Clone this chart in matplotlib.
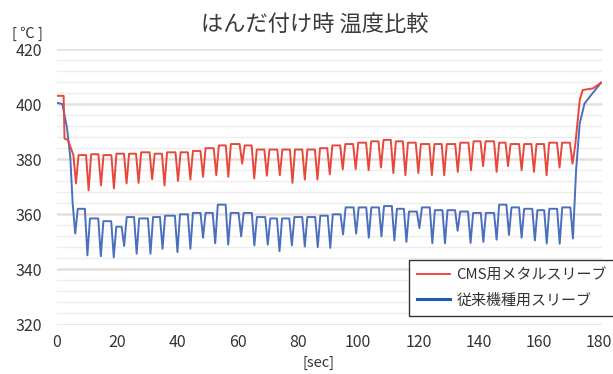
import matplotlib
matplotlib.use("Agg")
import matplotlib.pyplot as plt
from matplotlib.lines import Line2D
from matplotlib.ticker import MultipleLocator

plt.rcParams['font.family'] = ['Noto Sans CJK JP', 'DejaVu Sans']

title = "はんだ付け時 温度比較"
series_names = ["CMS用メタルスリーブ", "従来機種用スリーブ"]
x_ticks = [0, 20, 40, 60, 80, 100, 120, 140, 160, 180]
y_ticks = [320, 340, 360, 380, 400, 420]

# CMS metal sleeve (red): start, per-cycle dips and plateau levels, end
red_start_t = [0, 2.2, 2.5, 3.6]
red_start_v = [403, 403, 387.5, 387]
red_dip_t = [6.3, 10.5, 14.6, 18.9, 23.1, 27.1, 31.6, 35.7, 40.2, 44.3,
             48.5, 52.9, 56.9, 61.5, 65.5, 69.7, 74.0, 78.2, 82.3, 86.5,
             90.6, 94.9, 99.2, 103.5, 107.6, 111.7, 115.7, 120.0, 124.5, 128.6,
             133.1, 137.5, 141.5, 146.0, 149.8, 154.3, 158.4, 162.6, 166.9, 171.2]
red_dip_v = [371.2, 368.7, 370.5, 369.4, 371.2, 371.4, 372.7, 370.5, 372.1, 372.6,
             373.6, 374.2, 373.6, 378.4, 373.0, 374.0, 374.2, 371.4, 372.6, 372.6,
             374.5, 376.3, 376.4, 376.0, 377.0, 375.0, 374.2, 375.0, 374.2, 374.2,
             375.4, 376.0, 377.5, 375.4, 377.5, 376.0, 375.4, 374.2, 377.0, 378.4]
red_top_v = [381.5, 381.5, 381.8, 381.5, 382, 382, 382.5, 382, 382.5, 382.5,
             383, 384, 385, 385.5, 385, 383.5, 383.5, 383.5, 383.5, 383.5,
             384, 385, 385.5, 386, 386.5, 387, 386.5, 386, 385.5, 385.5,
             385.5, 386, 386.5, 386.5, 386, 385.5, 385.5, 385.5, 386, 386]
red_end_t = [172.1, 173.6, 174.6, 178.0, 180.7]
red_end_v = [385, 401.5, 405.1, 405.7, 407.8]

# conventional sleeve (blue)
blue_start_t = [0, 1.8, 3.3, 4.4]
blue_start_v = [400.5, 400, 391.5, 381]
blue_dip_t = [6.05, 10.1, 14.55, 18.85, 22.3, 26.45, 31.05, 35.05, 40.0, 44.3,
              48.5, 52.55, 56.85, 61.15, 65.55, 70.0, 73.9, 78.0, 82.3, 86.6,
              90.75, 95.0, 99.35, 103.55, 107.75, 112.05, 116.05, 120.35, 124.65, 128.85,
              133.05, 137.35, 141.6, 146.0, 150.1, 154.3, 158.7, 162.65, 166.95, 171.35]
blue_dip_v = [353, 345.1, 344.8, 344.4, 348.5, 345.7, 345.7, 347.5, 346.3, 347.5,
              351.5, 349.5, 349.0, 352.0, 348.7, 349.0, 346.6, 348.7, 348.3, 348.1,
              347.8, 352.7, 353.0, 351.5, 352.0, 350.5, 350.0, 355.0, 349.5, 349.5,
              354.0, 349.6, 350.0, 350.8, 352.5, 351.5, 350.5, 349.4, 349.3, 351.2]
blue_top_v = [364, 362, 358.5, 357.5, 355.5, 359, 358.5, 359, 359.5, 360,
              360.5, 360.5, 363.5, 360.5, 360.5, 359, 358.5, 358.5, 359, 359,
              359.5, 360, 362.5, 362.5, 362.5, 363, 362, 361, 362.5, 361.5,
              361.5, 361, 360.5, 360.5, 363.5, 362.5, 362, 361.5, 362, 362.5]
blue_end_t = [172.4, 173.6, 175.2, 177.4, 180.7]
blue_end_v = [376, 393, 400.2, 403.3, 407.8]

HALF = 0.85  # half width of each dip (drawing shape)


def build(st, sv, dt, dv, tv, et, ev):
    t = list(st)
    v = list(sv)
    n = len(dt)
    for i in range(n):
        t.append(dt[i] - HALF); v.append(tv[i])
        t.append(dt[i]); v.append(dv[i])
        if i < n - 1:
            t.append(dt[i] + HALF); v.append(tv[i + 1])
    t += et
    v += ev
    return t, v


rt, rv = build(red_start_t, red_start_v, red_dip_t, red_dip_v, red_top_v, red_end_t, red_end_v)
bt, bv = build(blue_start_t, blue_start_v, blue_dip_t, blue_dip_v, blue_top_v, blue_end_t, blue_end_v)

fig = plt.figure(figsize=(6.13, 3.74), dpi=100)
ax = fig.add_axes([57 / 613, 1 - 324.5 / 374, (602 - 57) / 613, (324.5 - 49) / 374])

red_c = '#e8473b'
blue_c = '#4a6fbf'
ax.plot(bt, bv, color=blue_c, lw=1.4, zorder=3, solid_joinstyle='round')
ax.plot(rt, rv, color=red_c, lw=1.4, zorder=4, solid_joinstyle='round')

ax.set_xlim(0, 181)
ax.set_ylim(320, 420)
ax.set_xticks(x_ticks)
ax.set_yticks(y_ticks)
ax.yaxis.set_minor_locator(MultipleLocator(4))
ax.grid(which='major', axis='y', color='#e8dfdb', lw=1.8, zorder=0)
ax.grid(which='minor', axis='y', color='#eeecec', lw=1.0, zorder=0)
ax.grid(which='major', axis='x', visible=False)
for s in ax.spines.values():
    s.set_visible(False)
ax.tick_params(axis='both', which='both', length=0, labelsize=11.5, colors='#333333')
ax.tick_params(axis='y', pad=11)
ax.tick_params(axis='x', pad=7)

fig.text(315 / 613, 1 - 24 / 374, title, ha='center', va='center', fontsize=16, color='#3a3a3a')
fig.text(27 / 613, 1 - 34 / 374, "[ ℃ ]", ha='center', va='center', fontsize=10.5, color='#333333')
fig.text(318 / 613, 1 - 363 / 374, "[sec]", ha='center', va='center', fontsize=10.5, color='#333333')

handles = [Line2D([], [], color='#f03a30', lw=1.3), Line2D([], [], color='#1f5cb5', lw=2.2)]
leg = ax.legend(handles, series_names, loc='upper left', mode='expand',
                bbox_to_anchor=(409 / 613, 1 - 320 / 374, 215 / 613, 60 / 374),
                bbox_transform=fig.transFigure,
                fontsize=10.8, frameon=True, fancybox=False, framealpha=1,
                edgecolor='#333333', handlelength=2.2, handletextpad=0.4,
                labelspacing=0.75, borderpad=0.55, borderaxespad=0)
leg.get_frame().set_linewidth(1.0)
for txt in leg.get_texts():
    txt.set_color('#333333')

fig.savefig('out.png', dpi=100)
